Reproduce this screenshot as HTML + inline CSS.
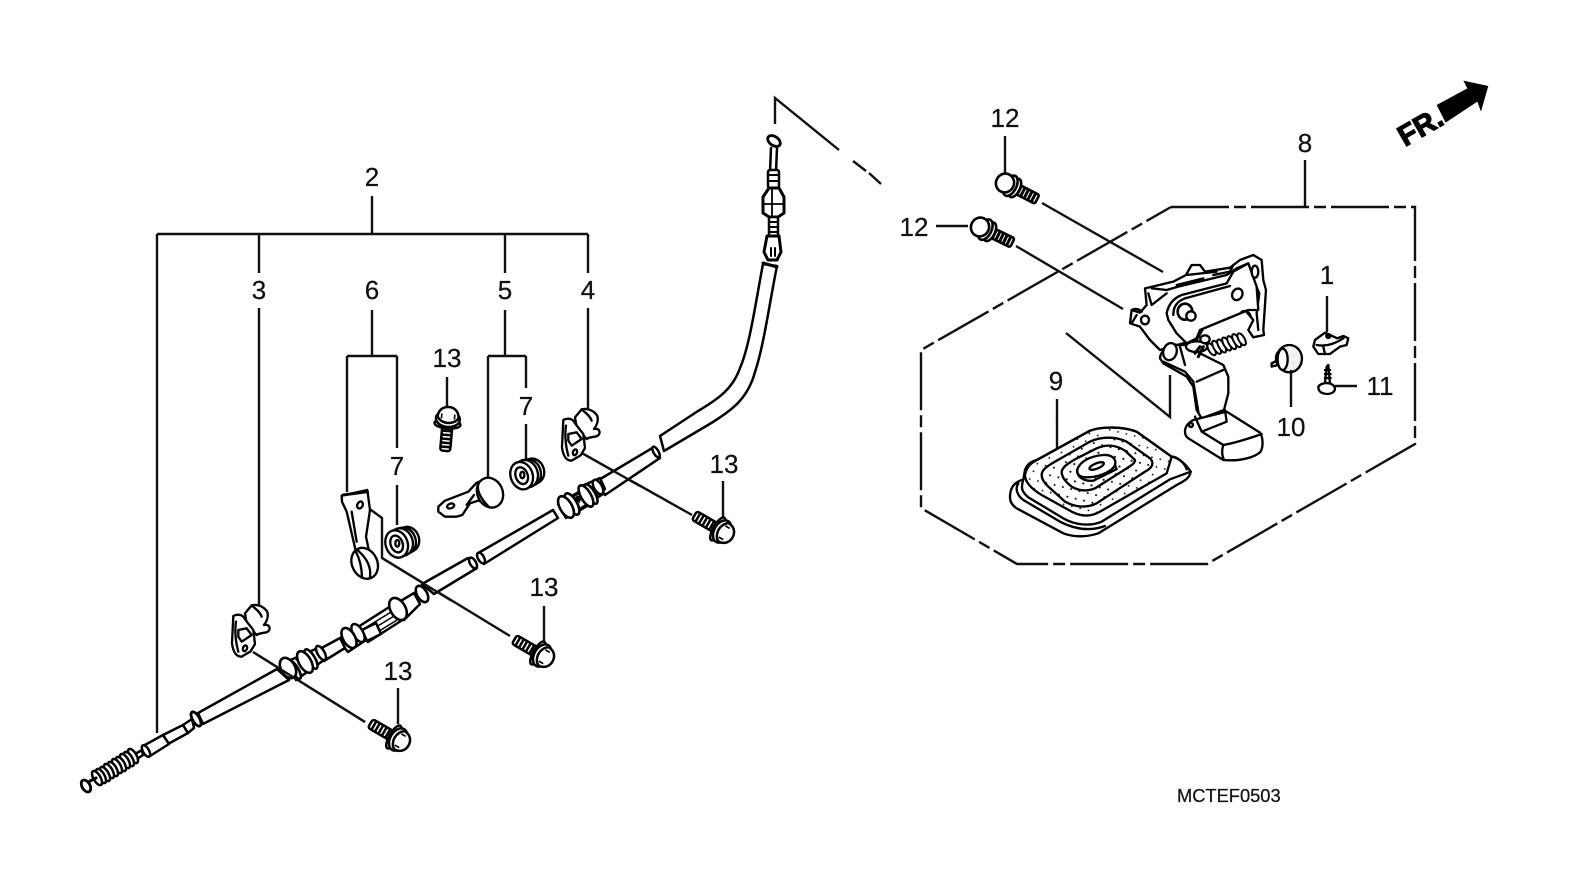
<!DOCTYPE html>
<html><head><meta charset="utf-8"><title>MCTEF0503</title>
<style>html,body{margin:0;padding:0;background:#fff;width:1569px;height:884px;overflow:hidden}svg{display:block}
text{font-family:"Liberation Sans",sans-serif;fill:#111;stroke:#111;stroke-width:.25}</style></head>
<body>
<svg width="1569" height="884" viewBox="0 0 1569 884" xmlns="http://www.w3.org/2000/svg">
<defs>
<pattern id="st" width="40" height="32" patternUnits="userSpaceOnUse" patternTransform="rotate(-25)">
<circle cx="6" cy="6" r="2.600" fill="#111"/><circle cx="26" cy="22" r="2.600" fill="#111"/></pattern>
<pattern id="st2" width="7" height="7" patternUnits="userSpaceOnUse"><circle cx="2" cy="2" r=".7" fill="#222"/><circle cx="5.500" cy="5.500" r=".7" fill="#222"/></pattern>
<g id="bolt" fill="#fff" stroke="#000" stroke-width="2.500" stroke-linejoin="round">
<rect x="-33" y="-5" width="24" height="10" rx="2.500"/>
<path d="M-29-5.500V5.500M-25-5.500V5.500M-21-5.500V5.500M-17-5.500V5.500M-13-5.500V5.500" fill="none"/>
<ellipse cx="-6" cy="0" rx="4.500" ry="13"/>
<ellipse cx="-1" cy="0" rx="8" ry="12"/>
<path d="M1-10.500C8-10 11-5 11 0C11 5 8 10 1 10.500C-3 9-5 4-5 0C-5-4-3-9 1-10.500Z"/>
<path d="M-1-6.500H4M-1 6.500H4" fill="none" stroke-width="1.600"/>
</g>
<g id="bolt12" fill="#fff" stroke="#000" stroke-width="2.600" stroke-linejoin="round">
<rect x="-36" y="-5" width="24" height="10" rx="2"/>
<path d="M-32-5.500V5.500M-28-5.500V5.500M-24-5.500V5.500M-20-5.500V5.500M-16-5.500V5.500" fill="none" stroke-width="3"/>
<ellipse cx="-11" cy="0" rx="5" ry="10"/>
<ellipse cx="-6" cy="0" rx="6" ry="11"/>
<ellipse cx="0" cy="0" rx="9" ry="9.500"/>
</g>
<g id="clip" fill="#fff" stroke="#000" stroke-width="7" stroke-linejoin="round" stroke-linecap="round">
<path d="M555 100L575 76C590 72 612 78 622 96C626 110 620 125 612 135C630 132 634 148 622 156C612 160 600 158 590 165L560 130Z"/>
<path d="M575 76C585 85 600 95 605 110" fill="none"/>
<path d="M520 108C535 100 550 105 555 118L580 150L585 192L572 214L545 230C530 230 520 220 516 190Z"/>
<path d="M528 125C525 145 525 180 535 215M535 150L560 145L575 165L545 185L535 170Z"/>
<ellipse cx="555" cy="205" rx="6" ry="9" transform="rotate(20 555 205)"/>
</g>
<g id="grom" fill="#fff" stroke="#000" stroke-width="7">
<ellipse cx="235" cy="478" rx="32" ry="38" transform="rotate(-20 235 478)"/>
<ellipse cx="225" cy="482" rx="32" ry="40" transform="rotate(-20 225 482)"/>
<ellipse cx="214" cy="486" rx="34" ry="42" transform="rotate(-20 214 486)"/>
<ellipse cx="200" cy="492" rx="33" ry="42" transform="rotate(-20 200 492)"/>
<ellipse cx="200" cy="492" rx="18" ry="26" transform="rotate(-20 200 492)"/>
<ellipse cx="202" cy="490" rx="6" ry="10"/>
</g>
</defs>
<rect width="1569" height="884" fill="#fff"/>

<!-- leader lines -->
<g fill="none" stroke="#111" stroke-width="2.400">
<path d="M372 196V234M157 234H588M157 234V733M259 234V273M505 234V273M588 234V273M259 308V605M372 310V356M505 310V356M588 308V409"/>
<path d="M347 356H397M347 356V492M397 356V448M397 485V525M488 356H526M488 356V479M526 356V388M526 424V461"/>
<path d="M447 377V410M253 652L365 722M580 452L692 515M723 481V517M367 507L382 518V558L510 636M544 606V642M398 688V724"/>
<path d="M1305 160V207M1005 136V174M936 226H968M1042 203L1163 272M1016 246L1123 309M1066 333L1170 417V375M1057 399V449M1327 296V332M1291 370V407M1335 386H1357"/>
<path d="M775 124V98L839 150M853 161L866 171M869 173L881 184"/>
<path d="M1171 207H1415V444L1207 564H1017L921 508V350L1171 207" stroke-dasharray="58 5 12 5"/>
</g>

<!-- labels -->
<g font-size="26" text-anchor="middle">
<text x="372" y="186">2</text><text x="259" y="299">3</text><text x="372" y="299">6</text><text x="505" y="299">5</text><text x="588" y="299">4</text>
<text x="447" y="367">13</text><text x="526" y="415">7</text><text x="397" y="475">7</text><text x="724" y="473">13</text><text x="544" y="596">13</text><text x="398" y="680">13</text>
<text x="1005" y="127">12</text><text x="914" y="236">12</text><text x="1305" y="152">8</text><text x="1327" y="284">1</text><text x="1056" y="390">9</text><text x="1291" y="436">10</text><text x="1380" y="395">11</text>
</g>
<text x="1177" y="802" font-size="18.300">MCTEF0503</text>

<!-- FR arrow -->
<text transform="translate(1405 147) rotate(-30)" font-size="29" font-weight="bold" style="fill:#000;stroke:#000;stroke-width:1.200">FR.</text>
<path transform="translate(1380 70) scale(.3333)" d="M170 105L262 55L250 32L325 48L303 125L292 95L197 158Z" fill="#000"/>

<!-- cable -->
<g fill="#fff" stroke="#000" stroke-width="2.500" stroke-linejoin="round" stroke-linecap="round">
<!-- upper curved cable -->
<path d="M763 264C756 300 750 345 740 368C733 388 720 398 698 411L660 436L664 451L708 425C733 410 748 398 755 372C764 345 770 300 777 266Z"/>
<!-- top fitting -->
<path d="M771 148L770 172M777 148L776 172" fill="none"/>
<ellipse cx="774" cy="141" rx="7" ry="4.500" transform="rotate(35 774 141)" stroke-width="2.800"/>
<rect x="768" y="170" width="11" height="18" rx="2"/>
<path d="M768 175H779M768 181H779" stroke-width="2"/>
<path d="M769 188H779L784 197V213L778 217H769L763 213V197Z" stroke-width="3"/>
<path d="M763 204H784M772 190V216" stroke-width="1.800"/>
<rect x="769" y="217" width="9" height="20"/><path d="M769 222H778M769 227H778M769 232H778" stroke-width="2"/>
<path d="M767 236H779L781 252L777 260H768L764 252Z" stroke-width="3"/>
<path d="M771 248V256M775 248V256" stroke-width="2"/>
<path d="M763 263L777 267" stroke-width="3"/>
<!-- middle tubes -->
<path d="M597 481L654 447L660 458L605 495Z"/>
<ellipse cx="656" cy="452" rx="2.500" ry="6" transform="rotate(-30 656 452)"/>
<path d="M480 552L553 510L558 518L484 564Z"/>
<ellipse cx="481" cy="558" rx="3" ry="6" transform="rotate(-30 481 558)"/>
<path d="M422 584L468 558L477 568L434 594Z"/>
<ellipse cx="473" cy="563" rx="3" ry="6" transform="rotate(-30 473 563)"/>
<!-- collars upper -->
<path d="M558 504L596 482L603 494L566 518Z"/>
<path d="M584 485L600 478L605 489L590 500Z"/>
<ellipse cx="598" cy="487" rx="4" ry="8" transform="rotate(-30 598 487)"/>
<path d="M570 498L590 487L597 500L577 512Z" fill="url(#st2)"/>
<ellipse cx="591" cy="494" rx="4" ry="11" transform="rotate(-30 591 494)" stroke-width="2.600"/>
<ellipse cx="586" cy="496" rx="5" ry="12" transform="rotate(-30 586 496)" stroke-width="2.600"/>
<ellipse cx="572" cy="504" rx="5" ry="12" transform="rotate(-30 572 504)" stroke-width="2.600"/>
<ellipse cx="566" cy="507" rx="6" ry="12" transform="rotate(-30 566 507)" stroke-width="2.600"/>
<circle cx="578" cy="499" r="2" fill="#000"/>
<!-- collar mid -->
<path d="M358 627L394 604L404 619L368 642Z"/>
<path d="M365 628L396 609M368 632L399 613M371 636L402 617" stroke-width="1.500" fill="none"/>
<path d="M338 640L356 626L366 640L348 652Z"/>
<path d="M362 630L376 623L381 634L367 641Z"/>
<ellipse cx="358" cy="633" rx="5" ry="10" transform="rotate(-30 358 633)"/>
<ellipse cx="349" cy="638" rx="6" ry="11" transform="rotate(-30 349 638)" stroke-width="2.600"/>
<path d="M318 650L340 638L345 648L324 661Z"/>
<path d="M394 605L414 593L420 604L404 620Z"/>
<ellipse cx="398" cy="609" rx="7.500" ry="12" transform="rotate(-30 398 609)" stroke-width="2.600"/>
<ellipse cx="422" cy="594" rx="5" ry="9" transform="rotate(-30 422 594)" stroke-width="2.600"/>
<!-- long lower tube -->
<path d="M198 713L277 669L289 680L203 724Z"/>
<path d="M286 662L318 648L324 660L296 680Z" fill="url(#st2)"/>
<ellipse cx="321" cy="653" rx="3.500" ry="8" transform="rotate(-30 321 653)"/>
<ellipse cx="311" cy="659" rx="4" ry="11" transform="rotate(-30 311 659)" stroke-width="2.600"/>
<ellipse cx="305" cy="662" rx="6" ry="12" transform="rotate(-30 305 662)" stroke-width="2.600"/>
<ellipse cx="295" cy="670" rx="3.500" ry="10" transform="rotate(-30 295 670)" stroke-width="2.600"/>
<ellipse cx="288" cy="668" rx="7" ry="11" transform="rotate(-30 288 668)" stroke-width="2.600"/>
<ellipse cx="196" cy="719" rx="3.500" ry="8" transform="rotate(-30 196 719)" stroke-width="2.800"/>
<path d="M163 735L183 725L188 733L168 744Z"/>
<path d="M183 725L192 719L194 728L188 733Z"/>
<path d="M143 746L163 735L169 744L150 756Z"/>
<ellipse cx="146" cy="751" rx="3" ry="6.500" transform="rotate(-30 146 751)"/>
<path d="M135 754L142 750L143 755L137 759Z"/>
<!-- spring -->
<g stroke-width="2.500">
<ellipse cx="133" cy="756" rx="3.500" ry="8" transform="rotate(-30 133 756)"/><ellipse cx="129" cy="759" rx="3.500" ry="8" transform="rotate(-30 129 759)"/>
<ellipse cx="125" cy="761" rx="3.500" ry="8" transform="rotate(-30 125 761)"/><ellipse cx="121" cy="764" rx="3.500" ry="8" transform="rotate(-30 121 764)"/>
<ellipse cx="117" cy="766" rx="3.500" ry="8" transform="rotate(-30 117 766)"/><ellipse cx="113" cy="769" rx="3.500" ry="8" transform="rotate(-30 113 769)"/>
<ellipse cx="109" cy="771" rx="3.500" ry="8" transform="rotate(-30 109 771)"/><ellipse cx="105" cy="774" rx="3.500" ry="8" transform="rotate(-30 105 774)"/>
<ellipse cx="101" cy="776" rx="3.500" ry="8" transform="rotate(-30 101 776)"/><ellipse cx="97" cy="778" rx="3.500" ry="8" transform="rotate(-30 97 778)"/>
</g>
<path d="M90 781L96 778" stroke-width="3"/>
<ellipse cx="86" cy="786" rx="4" ry="6.500" transform="rotate(-30 86 786)" stroke-width="2.800"/>
</g>

<!-- redraw leaders crossing cable -->
<g fill="none" stroke="#111" stroke-width="2.400"><path d="M253 652L365 722M580 452L640 486M382 558L452 601"/></g>

<!-- bolts -->
<use href="#bolt" transform="translate(723 532) rotate(30)"/>
<use href="#bolt" transform="translate(543 656) rotate(30)"/>
<use href="#bolt" transform="translate(399 740) rotate(30)"/>
<use href="#bolt" transform="translate(448 418) rotate(-85)"/>
<use href="#bolt12" transform="translate(1005 183) rotate(207)"/>
<use href="#bolt12" transform="translate(980 227) rotate(206)"/>

<!-- clips -->
<use href="#clip" transform="translate(60 580) scale(.3333)"/>
<use href="#clip" transform="translate(390 384) scale(.3333)"/>

<!-- brackets, grommets (zoom 3 coordinates) -->
<g transform="translate(330 380) scale(.3333)" fill="#fff" stroke="#000" stroke-width="7" stroke-linejoin="round" stroke-linecap="round">
<path d="M35 347L112 330L120 390L108 470L116 508L78 516L72 490L50 395L36 365Z"/>
<ellipse cx="104" cy="550" rx="38" ry="48" transform="rotate(-25 104 550)"/>
<path d="M84 512C105 530 125 555 120 592M78 516C88 535 95 560 96 590" fill="none"/>
<path d="M40 345L112 335" stroke-width="9" stroke-dasharray="4 4"/>
<path d="M65 395L80 485" fill="none"/>
<ellipse cx="90" cy="375" rx="8" ry="11" transform="rotate(25 90 375)"/>
<path d="M325 380L345 362L415 335L440 308L470 296L500 378L445 362L420 370L397 405L380 410L345 410L325 395Z"/>
<ellipse cx="480" cy="338" rx="38" ry="46" transform="rotate(-25 480 338)"/>
<path d="M445 312C440 330 450 355 478 382M432 345L410 375" fill="none"/>
<ellipse cx="362" cy="378" rx="11" ry="7" transform="rotate(-20 362 378)"/>
<use href="#grom"/>
<use href="#grom" x="375" y="-205"/>
</g>

<!-- lever assembly (zoom 1 coordinates) -->
<g transform="translate(1000 230) scale(.3333)" fill="#fff" stroke="#000" stroke-width="7" stroke-linejoin="round" stroke-linecap="round">
<path d="M435 175L520 155L558 135L575 105L600 105L615 125L690 113L720 90L760 75L785 90L790 150L798 180L790 300L792 315L760 322L745 300L760 270L735 240L680 265L610 295L590 330L530 345L480 360L450 330L420 290L390 280L395 240L420 248L440 225Z"/>
<path d="M455 175L500 180L535 170L680 135L710 115L745 100L765 160L778 190L770 250L775 300" fill="none"/>
<path d="M445 190L455 225L500 190M530 165L610 145M640 135L690 125L700 105M560 135L650 125" fill="none"/>
<path d="M500 250C505 225 520 205 545 195L680 160L700 125L745 100L770 170L775 240L745 240L600 300L590 325L560 340L530 310L505 270Z"/>
<path d="M520 255C520 230 530 215 555 205L690 168" fill="none"/>
<ellipse cx="712" cy="193" rx="15" ry="18" transform="rotate(30 712 193)"/>
<ellipse cx="765" cy="125" rx="10" ry="18"/>
<ellipse cx="555" cy="245" rx="22" ry="24" stroke-width="8"/>
<ellipse cx="573" cy="258" rx="14" ry="14" stroke-width="7"/>
<path d="M725 245C735 240 750 245 752 260" fill="none"/>
<ellipse cx="435" cy="270" rx="12" ry="13"/>
<path d="M395 240C405 235 415 235 425 245M395 280L410 255" fill="none"/>
<path d="M480 385C480 365 510 335 530 345L570 345L600 370L640 390L670 405L685 440L685 490L672 540L605 565L590 540L580 470L560 440L490 400Z"/>
<path d="M590 455L670 420M540 350L555 405M490 395L555 425L580 455L595 545" fill="none"/>
<ellipse cx="510" cy="365" rx="20" ry="26" transform="rotate(15 510 365)"/>
<ellipse cx="590" cy="350" rx="32" ry="16"/>
<g stroke-width="6">
<ellipse cx="635" cy="358" rx="9" ry="20" transform="rotate(-30 635 358)"/><ellipse cx="650" cy="352" rx="9" ry="22" transform="rotate(-30 650 352)"/>
<ellipse cx="665" cy="348" rx="9" ry="22" transform="rotate(-30 665 348)"/><ellipse cx="680" cy="342" rx="9" ry="22" transform="rotate(-30 680 342)"/>
<ellipse cx="695" cy="338" rx="9" ry="22" transform="rotate(-30 695 338)"/><ellipse cx="710" cy="332" rx="9" ry="22" transform="rotate(-30 710 332)"/>
<ellipse cx="725" cy="328" rx="9" ry="20" transform="rotate(-30 725 328)"/>
</g>
<ellipse cx="615" cy="328" rx="14" ry="12"/>
<path d="M585 370L600 350M595 380L610 350" stroke-width="9"/>
<path d="M555 605C555 590 565 578 580 570L680 545L780 608C790 625 790 650 782 665C765 682 720 695 670 690L565 625C558 620 555 612 555 605Z"/>
<path d="M585 560L605 605L680 575L675 540M605 605L670 645C700 640 750 625 785 612M670 645C665 660 665 675 672 690" fill="none"/>
<circle cx="573" cy="585" r="6"/>
<!-- part 10 -->
<path d="M845 385L815 400L815 410L850 400" />
<ellipse cx="836" cy="385" rx="8" ry="18"/>
<ellipse cx="868" cy="386" rx="38" ry="41" fill="url(#st2)"/>
<ellipse cx="848" cy="388" rx="15" ry="32"/>
<!-- part 1 -->
<path d="M945 330L975 308L1012 325L1030 318L1045 325L1040 345L1020 350L990 372L955 372L940 350Z"/>
<path d="M950 345C975 350 1000 345 1030 325M970 350L975 372" fill="none"/>
<circle cx="985" cy="318" r="6" fill="#000"/>
<!-- part 11 -->
<path d="M980 410L985 405L990 460L975 460Z"/>
<path d="M975 420L990 420M975 432L992 432M975 444L992 444" fill="none"/>
<path d="M955 470C965 455 1000 455 1005 475C1005 490 985 495 970 490C960 488 955 480 955 470Z"/>
</g>

<!-- boot 9 (zoom 7 coordinates) -->
<g transform="translate(1000 420) scale(.3333)" fill="#fff" stroke="#000" stroke-width="7" stroke-linejoin="round" stroke-linecap="round">
<path d="M30 232C30 205 40 188 70 178L75 150C80 135 90 125 110 120L270 32C310 18 370 20 410 35L515 110C535 112 560 135 572 155C570 175 550 185 530 195L295 340C260 352 220 352 190 340L50 265C35 255 30 245 30 232Z"/>
<path d="M70 178C62 205 65 215 85 232L190 295C225 315 270 320 305 305L510 178L572 155M55 190C45 205 50 225 70 240L180 305C225 328 270 335 315 318" fill="none"/>
<path d="M75 165C80 135 100 125 120 115L270 32C310 18 370 20 410 35L515 110L500 160L300 275C275 290 245 290 215 275L125 225C100 210 75 190 75 165Z" fill="url(#st)"/>
<path d="M125 165C125 150 140 140 160 128L270 65C305 48 350 50 380 65L450 115C465 130 455 145 435 155L290 250C260 265 225 262 195 245L145 200C132 188 125 178 125 165Z" fill="url(#st)"/>
<path d="M185 155C188 140 205 130 225 118L290 85C320 72 350 75 375 92L405 120C405 130 395 135 380 145L285 205C260 215 235 212 215 200C195 185 185 170 185 155Z" fill="url(#st)"/>
<path d="M232 148C240 125 270 108 310 105C338 104 350 118 345 135C335 158 290 172 260 172C240 172 228 162 232 148Z"/>
<path d="M232 150C230 170 250 185 280 182L345 150M345 135L350 148" fill="none"/>
<ellipse cx="290" cy="138" rx="23" ry="8" transform="rotate(-22 290 138)"/>
<path d="M515 110C530 108 555 130 560 148" fill="none"/>
</g>
</svg>
</body></html>
